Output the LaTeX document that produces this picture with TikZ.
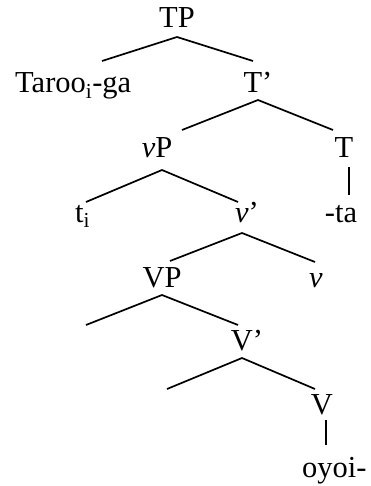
\documentclass[tikz,border=0pt]{standalone}
\usepackage{fontspec}
\setmainfont{Liberation Serif}
\begin{document}
\begin{tikzpicture}[x=1pt,y=-1pt,
  lab/.style={anchor=base,inner sep=0pt,font=\fontsize{30.5}{36}\selectfont},
  labl/.style={anchor=base west,inner sep=0pt,font=\fontsize{30.5}{36}\selectfont},
  br/.style={line width=1.7pt}]
\useasboundingbox (0,0) rectangle (371,486);
% labels
\node[lab] (TP) at (177,28) {TP};
\node[labl] (Taroo) at (15,93) {Taroo\textsubscript{i}-ga};
\node[lab] (Tbar) at (258,93) {T’};
\node[lab] (vP) at (157,158) {\textit{v}P};
\node[lab] (T) at (344,158) {T};
\node[labl] (ti) at (75,222) {t\textsubscript{i}};
\node[lab] (vbar) at (247,222) {\textit{v}’};
\node[lab] (ta) at (341,222) {-ta};
\node[lab] (VP) at (162,287) {VP};
\node[lab] (v) at (316,287) {\textit{v}};
\node[lab] (Vbar) at (247,350) {V’};
\node[lab] (V) at (322,414) {V};
\node[labl] (oyoi) at (302,477) {oyoi-};
% branch points
\coordinate (a1) at (177,37);  \coordinate (l1) at (102,61);  \coordinate (r1) at (253,61);
\coordinate (a2) at (258,100); \coordinate (l2) at (182,130); \coordinate (r2) at (333,130);
\coordinate (a3) at (162,170); \coordinate (l3) at (86,202);  \coordinate (r3) at (238,202);
\coordinate (b1) at (349,167); \coordinate (b2) at (349,195);
\coordinate (a4) at (242,233); \coordinate (l4) at (170,261); \coordinate (r4) at (315,262);
\coordinate (a5) at (162,295); \coordinate (l5) at (86,325);  \coordinate (r5) at (238,325);
\coordinate (a6) at (242,358); \coordinate (l6) at (167,389); \coordinate (r6) at (315,389);
\coordinate (c1) at (326,420); \coordinate (c2) at (326,445);
% branches
\draw[br] (l1) -- (a1) -- (r1);
\draw[br] (l2) -- (a2) -- (r2);
\draw[br] (l3) -- (a3) -- (r3);
\draw[br] (b1) -- (b2);
\draw[br] (l4) -- (a4) -- (r4);
\draw[br] (l5) -- (a5) -- (r5);
\draw[br] (l6) -- (a6) -- (r6);
\draw[br] (c1) -- (c2);
\end{tikzpicture}
\end{document}
